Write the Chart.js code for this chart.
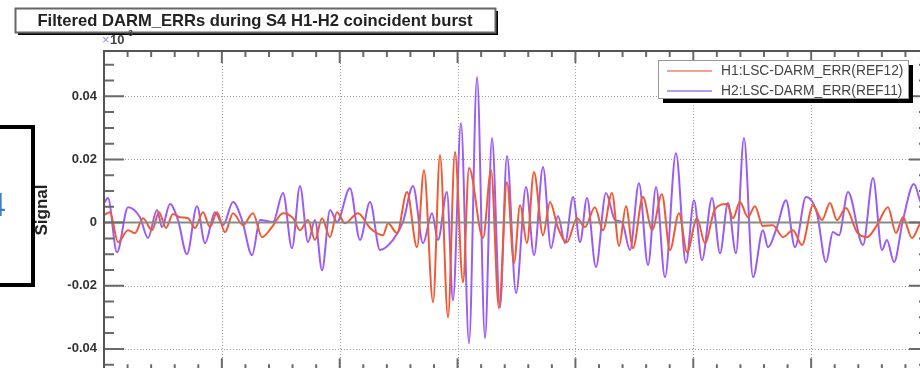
<!DOCTYPE html>
<html>
<head>
<meta charset="utf-8">
<script src="https://cdn.jsdelivr.net/npm/chart.js@4.4.1/dist/chart.umd.min.js"></script>
<style>
html, body { margin: 0; padding: 0; background: #fff; overflow: hidden; }
#wrap { position: relative; width: 940px; height: 385px; }
</style>
</head>
<body>
<div id="wrap"><canvas id="burst" width="940" height="385"></canvas></div>
<script>
var titleText = 'Filtered DARM_ERRs during S4 H1-H2 coincident burst';
var seriesNames = ['H1:LSC-DARM_ERR(REF12)', 'H2:LSC-DARM_ERR(REF11)'];
var yAxisTitle = 'Signal';
var yTicks = [-0.04, -0.02, 0, 0.02, 0.04];
var yTickLabels = ['-0.04', '-0.02', '0', '0.02', '0.04'];

// time in ms, signal in axis units
var h1Time = [0, 0.51, 1.19, 2.04, 2.63, 3.31, 4.07, 4.67, 5.26, 5.85, 6.45, 7.13, 7.72, 8.40, 8.99, 9.59,
  10.27, 10.95, 11.79, 12.64, 13.41, 14.25, 15.19, 16.04, 16.63, 17.31, 17.90, 18.50, 19.18, 19.77, 20.45,
  21.55, 22.57, 23.67, 24.10, 24.86, 25.71, 26.56, 27.15, 27.92, 28.51, 29.19, 29.78, 30.46, 30.97, 32.16,
  32.84, 33.51, 34.19, 34.79, 35.30, 35.89, 36.48, 37.25, 37.84, 38.52, 39.28, 40.13, 40.81, 41.65, 42.34,
  43.10, 43.70, 44.29, 44.88, 45.73, 46.50, 47.34, 48.02, 48.79, 49.47, 50.31, 50.99, 51.84, 52.86, 53.37,
  53.96, 54.64, 55.23, 55.91, 56.76, 57.61, 58.46, 59.22, 60.16, 60.92, 61.60, 62.19, 62.95, 63.89, 64.74,
  65.59, 66.52, 67.20, 67.79, 68.56, 69.23, 70];
var h1Signal = [0.0024, 0.0033, -0.0062, -0.0024, -0.0033, 0.0014, -0.0024, 0.0033, -0.0017, 0.0027, 0.0017,
  0.0014, -0.0017, 0.0033, -0.0014, 0.0033, -0.0030, 0.0030, -0.0008, 0.0030, -0.0046, -0.0014, 0.0030, 0.0014,
  -0.0024, 0.0008, -0.0055, 0.0014, -0.0046, 0.0033, -0.0002, 0.0030, -0.0017, -0.0040, -0.0002, -0.0033,
  0.0097, -0.0078, 0.0166, -0.0252, 0.0214, -0.0300, 0.0224, -0.0189, 0.0173, -0.0049, 0.0166, -0.0271,
  0.0128, -0.0128, 0.0055, -0.0065, 0.0160, -0.0040, 0.0065, -0.0017, -0.0062, 0.0014, -0.0014, 0.0049,
  -0.0024, 0.0094, -0.0074, 0.0052, -0.0081, 0.0081, -0.0024, 0.0090, -0.0087, 0.0030, -0.0094, 0.0014,
  -0.0065, 0.0043, 0.0059, 0.0014, 0.0065, 0.0017, 0.0052, -0.0011, -0.0008, -0.0046, -0.0024, -0.0071,
  0.0055, 0.0008, 0.0062, 0.0008, 0.0046, -0.0030, -0.0046, -0.0008, 0.0049, -0.0033, 0.0017, -0.0049,
  -0.0005, 0.0020];

var h2Time = [0, 0.34, 1.10, 2.04, 3.05, 3.73, 4.50, 4.92, 5.60, 6.28, 7.04, 7.89, 8.57, 9.42, 10.10, 10.95,
  11.71, 12.56, 13.24, 14.34, 15.19, 15.95, 16.63, 17.31, 17.90, 18.50, 19.18, 19.77, 20.87, 21.72, 22.57,
  23.42, 24.52, 25.37, 26.22, 27.07, 27.83, 28.34, 29.10, 29.61, 30.29, 30.97, 31.65, 32.33, 32.92, 33.60,
  34.19, 34.96, 35.81, 36.49, 37.25, 37.93, 38.52, 39.12, 39.80, 40.39, 40.98, 41.74, 42.59, 43.36, 43.95,
  44.63, 45.39, 46.16, 46.84, 47.60, 48.53, 49.38, 50.06, 50.74, 51.59, 52.27, 52.94, 53.62, 54.30, 55.07,
  55.91, 56.34, 57.10, 57.87, 58.63, 59.56, 60.49, 61.26, 61.85, 62.36, 63.13, 64.40, 65.25, 66.01, 66.43,
  67.03, 67.79, 68.72, 69.23, 70];
var h2Signal = [0.0062, 0.0078, -0.0094, 0.0049, 0.0017, -0.0049, 0.0040, -0.0014, 0.0059, 0.0008, -0.0100,
  0.0052, -0.0065, 0.0033, -0.0008, 0.0065, 0.0008, -0.0103, 0.0008, 0.0002, 0.0094, -0.0081, 0.0116, -0.0062,
  0.0008, -0.0151, 0.0040, 0.0002, 0.0109, -0.0055, 0.0065, -0.0087, -0.0055, 0.0002, 0.0116, -0.0065, 0.0030,
  -0.0055, 0.0097, -0.0246, 0.0315, -0.0382, 0.0461, -0.0366, 0.0268, -0.0268, 0.0211, -0.0223, 0.0113,
  -0.0103, 0.0176, -0.0081, 0.0021, -0.0065, 0.0081, -0.0062, 0.0078, -0.0141, 0.0094, 0.0008, 0.0002,
  -0.0087, 0.0125, -0.0135, 0.0113, -0.0173, 0.0220, -0.0128, 0.0071, -0.0119, 0.0078, -0.0097, 0.0062,
  -0.0097, 0.0268, -0.0173, -0.0024, -0.0078, -0.0014, 0.0071, -0.0078, 0.0081, 0.0030, -0.0125, -0.0030,
  -0.0040, 0.0097, -0.0071, 0.0141, -0.0087, -0.0055, -0.0125, 0.0008, 0.0122, 0.0071, 0.0000];

var lineColors = ['#f05a32', '#9b5cf6'];
var legendColors = ['#f6a38f', '#b69af5'];
var FONT = '"Liberation Sans", Arial, sans-serif';

function pairs(xs, ys) {
  return xs.map(function (x, i) { return { x: x, y: ys[i] }; });
}

// ROOT-style frame, grid, ticks, legend and title
var rootFrame = {
  id: 'rootFrame',
  beforeDatasetsDraw: function (chart) {
    var c = chart.ctx, a = chart.chartArea;
    var xs = chart.scales.x, ys = chart.scales.y;
    c.save();
    c.strokeStyle = '#a0a0a0';
    c.lineWidth = 1;
    c.setLineDash([1, 2]);
    for (var t = 10; t < 70; t += 10) {
      var px = Math.round(xs.getPixelForValue(t)) + 0.5;
      c.beginPath(); c.moveTo(px, a.top); c.lineTo(px, a.bottom); c.stroke();
    }
    yTicks.forEach(function (v) {
      if (v === 0) return;
      var py = Math.round(ys.getPixelForValue(v)) + 0.5;
      c.beginPath(); c.moveTo(a.left, py); c.lineTo(a.right, py); c.stroke();
    });
    c.restore();
  },
  afterDatasetsDraw: function (chart) {
    var c = chart.ctx, a = chart.chartArea;
    var xs = chart.scales.x, ys = chart.scales.y;
    c.save();
    // zero line
    var z = ys.getPixelForValue(0);
    c.strokeStyle = '#8a8a8a';
    c.lineWidth = 2;
    c.beginPath(); c.moveTo(a.left, z); c.lineTo(a.right, z); c.stroke();

    // ticks
    c.strokeStyle = '#6a6a6a';
    c.lineWidth = 2;
    for (var t = 0; t <= 70; t += 2) {
      var px = xs.getPixelForValue(t);
      var len = (t % 10 === 0) ? 12 : 6;
      c.beginPath();
      c.moveTo(px, a.top); c.lineTo(px, a.top + len);
      c.moveTo(px, a.bottom); c.lineTo(px, a.bottom - len);
      c.stroke();
    }
    for (var k = -9; k <= 10; k++) {
      var py = ys.getPixelForValue(k * 0.005);
      var l2 = (k % 4 === 0) ? 20 : 10;
      c.beginPath();
      c.moveTo(a.left, py); c.lineTo(a.left + l2, py);
      c.moveTo(a.right, py); c.lineTo(a.right - l2, py);
      c.stroke();
    }
    // frame
    c.strokeStyle = '#555';
    c.lineWidth = 2;
    c.strokeRect(a.left, a.top, a.right - a.left, a.bottom - a.top);
    c.restore();
  },
  afterDraw: function (chart) {
    var c = chart.ctx;
    c.save();
    // legend box with shadow
    var lx = 658, ly = 60, lw = 250, lh = 38;
    c.fillStyle = '#000';
    c.fillRect(lx + 5, ly + 5, lw, lh);
    c.fillStyle = '#fff';
    c.fillRect(lx, ly, lw, lh);
    c.strokeStyle = '#999';
    c.lineWidth = 1;
    c.strokeRect(lx + 0.5, ly + 0.5, lw, lh);
    c.font = '13.8px ' + FONT;
    c.textBaseline = 'middle';
    c.textAlign = 'left';
    seriesNames.forEach(function (name, i) {
      var yy = ly + 11 + i * 20;
      c.strokeStyle = legendColors[i];
      c.lineWidth = 2;
      c.beginPath(); c.moveTo(667, yy); c.lineTo(712, yy); c.stroke();
      c.fillStyle = '#444';
      c.fillText(name, 721, yy);
    });

    // title box with shadow
    var tx = 15, ty = 8, tw = 480, th = 24;
    c.fillStyle = '#000';
    c.fillRect(tx + 3, ty + 3, tw, th);
    c.fillStyle = '#fff';
    c.fillRect(tx, ty, tw, th);
    c.strokeStyle = '#666';
    c.strokeRect(tx + 0.5, ty + 0.5, tw, th);
    c.font = 'bold 16.6px ' + FONT;
    c.fillStyle = '#222';
    c.textAlign = 'center';
    c.fillText(titleText, tx + tw / 2, ty + th / 2 + 1);

    // exponent label
    c.textAlign = 'left';
    c.font = '13px ' + FONT;
    c.fillStyle = '#9a8ccc';
    c.fillText('\u00d7', 102, 40);
    c.fillStyle = '#444';
    c.font = 'bold 13px ' + FONT;
    c.fillText('10', 110, 40);
    c.font = 'bold 9px ' + FONT;
    c.fillText('-3', 125, 34);

    // y axis title
    c.translate(42, 210);
    c.rotate(-Math.PI / 2);
    c.textAlign = 'center';
    c.font = 'bold 17px ' + FONT;
    c.fillStyle = '#222';
    c.fillText(yAxisTitle, 0, 0);
    c.restore();

    // overlapping slide box at the far left
    c.save();
    c.strokeStyle = '#000';
    c.lineWidth = 4;
    c.strokeRect(-10, 127, 43, 158);
    c.fillStyle = '#3a80c8';
    c.font = '34px ' + FONT;
    c.textAlign = 'right';
    c.textBaseline = 'middle';
    c.fillText('4', 6, 207);
    c.restore();
  }
};

var ctx = document.getElementById('burst').getContext('2d');
var chart = new Chart(ctx, {
  type: 'line',
  data: {
    datasets: [{
      label: seriesNames[0],
      data: pairs(h1Time, h1Signal),
      borderColor: lineColors[0],
      borderWidth: 2,
      pointRadius: 0,
      cubicInterpolationMode: 'monotone',
      fill: false
    }, {
      label: seriesNames[1],
      data: pairs(h2Time, h2Signal),
      borderColor: lineColors[1],
      borderWidth: 2,
      pointRadius: 0,
      cubicInterpolationMode: 'monotone',
      fill: false
    }]
  },
  options: {
    responsive: false,
    animation: false,
    devicePixelRatio: 1,
    layout: { padding: { left: 0, top: 51, right: 11, bottom: 10 } },
    plugins: { legend: { display: false }, title: { display: false }, tooltip: { enabled: false } },
    scales: {
      x: { type: 'linear', min: 0, max: 70, display: false },
      y: {
        type: 'linear',
        min: -0.04675,
        max: 0.05436,
        afterFit: function (s) { s.width = 104; },
        afterBuildTicks: function (s) { s.ticks = yTicks.map(function (v) { return { value: v }; }); },
        grid: { display: false, drawTicks: false },
        border: { display: false },
        ticks: {
          padding: 7,
          color: '#333',
          font: { family: FONT, size: 13, weight: 'bold' },
          callback: function (v) { var i = yTicks.indexOf(v); return i >= 0 ? yTickLabels[i] : ''; }
        }
      }
    }
  },
  plugins: [rootFrame]
});
</script>
</body>
</html>
